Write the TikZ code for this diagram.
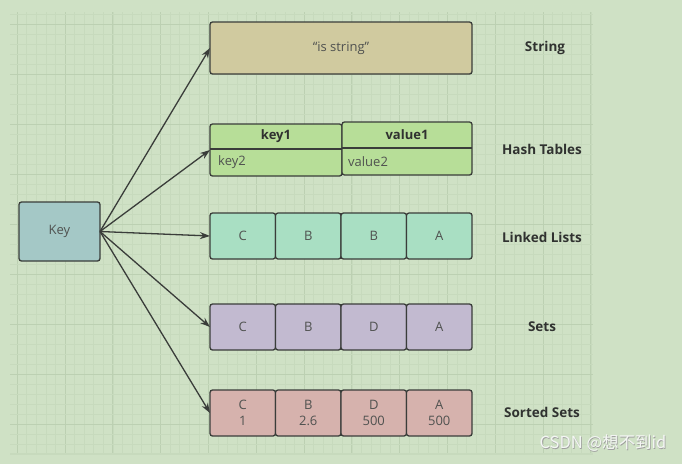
\documentclass[tikz,border=0pt]{standalone}
\usepackage{fontspec}
\setmainfont{Open Sans}
\newfontfamily\cjk{Noto Sans CJK SC}
\usetikzlibrary{arrows.meta,calc}
\definecolor{bg}{HTML}{CFE1C5}
\definecolor{gridminor}{HTML}{C7DABD}
\definecolor{gridmajor}{HTML}{BCD0B2}
\definecolor{linec}{HTML}{3A3D3A}
\definecolor{txt}{HTML}{505250}
\definecolor{lbl}{HTML}{303230}
\definecolor{keyc}{HTML}{A4C8C6}
\definecolor{strc}{HTML}{D0CA9F}
\definecolor{hashc}{HTML}{B7DE98}
\definecolor{listc}{HTML}{A9DFC3}
\definecolor{setc}{HTML}{C2BAD0}
\definecolor{zsetc}{HTML}{D6B2AD}
\definecolor{wm}{HTML}{F4F6F4}
\tikzset{
  cell/.style={draw=linec, line width=1.3pt, rounded corners=2.5pt, text=txt,
    font=\fontsize{13}{15}\selectfont, anchor=north west, inner sep=0pt, outer sep=0pt,
    minimum height=46pt, minimum width=65.5pt, align=center},
  lab/.style={text=lbl, font=\bfseries\fontsize{13.5}{15}\selectfont},
  txtn/.style={text=txt, font=\fontsize{13}{15}\selectfont, inner sep=0pt},
  conn/.style={draw=linec, line width=1.3pt, -{Stealth[length=10pt,width=7pt]}},
}
\begin{document}
\begin{tikzpicture}[x=1pt,y=-1pt]
\useasboundingbox (0,0) rectangle (682,464);
\fill[bg] (0,0) rectangle (682,464);
% grid
\foreach \k in {0,...,60} {
  \pgfmathsetmacro{\xx}{17.2+9.56*\k}
  \draw[gridminor, line width=0.6pt] (\xx,12) -- (\xx,453);
}
\foreach \k in {0,...,12} {
  \pgfmathsetmacro{\xx}{17.2+47.8*\k}
  \draw[gridmajor, line width=0.9pt] (\xx,12) -- (\xx,453);
}
\foreach \k in {0,...,43} {
  \pgfmathsetmacro{\yy}{14+10*\k}
  \draw[gridminor, line width=0.6pt] (10,\yy) -- (593,\yy);
}
\foreach \k in {0,...,8} {
  \pgfmathsetmacro{\yy}{24+50*\k}
  \draw[gridmajor, line width=0.9pt] (10,\yy) -- (593,\yy);
}
\fill[gridminor] (10,453) rectangle (593,455);

% key
\node[cell, fill=keyc, minimum width=81pt, minimum height=59pt] (key) at (19,202) {Key};

% string
\node[cell, fill=strc, minimum width=262pt, minimum height=52pt] (str) at (210,22) {\textquotedblleft is string\textquotedblright};

% hash
\node[cell, fill=hashc, minimum width=132pt, minimum height=52pt] (hk) at (210,124) {};
\node[cell, fill=hashc, minimum width=130pt, minimum height=53pt] (hv) at (342,122) {};
\coordinate (hkd) at ($(hk.north west)!0.48!(hk.south west)$);
\coordinate (hvd) at ($(hv.north west)!0.49!(hv.south west)$);
\draw[linec, line width=1.3pt] (hkd) -- (hkd -| hk.east);
\draw[linec, line width=1.3pt] (hvd) -- (hvd -| hv.east);
\node[txtn, font=\bfseries\fontsize{13}{15}\selectfont, text=lbl] (k1) at ($(hk.north)!0.5!(hkd -| hk.north)$) {key1};
\node[txtn, anchor=west] (k2) at ($(hkd)!0.5!(hk.south west)+(8,0)$) {key2};
\node[txtn, font=\bfseries\fontsize{13}{15}\selectfont, text=lbl] (v1) at ($(hv.north)!0.5!(hvd -| hv.north)$) {value1};
\node[txtn, anchor=west] (v2) at ($(hvd)!0.5!(hv.south west)+(6,0)$) {value2};

% linked lists
\node[cell, fill=listc] (l1) at (210,213) {C};
\node[cell, fill=listc] (l2) at (275.5,213) {B};
\node[cell, fill=listc] (l3) at (341,213) {B};
\node[cell, fill=listc] (l4) at (406.5,213) {A};

% sets
\node[cell, fill=setc] (s1) at (210,304) {C};
\node[cell, fill=setc] (s2) at (275.5,304) {B};
\node[cell, fill=setc] (s3) at (341,304) {D};
\node[cell, fill=setc] (s4) at (406.5,304) {A};

% sorted sets
\node[cell, fill=zsetc, font=\fontsize{13}{16}\selectfont] (z1) at (210,390) {C\\1};
\node[cell, fill=zsetc, font=\fontsize{13}{16}\selectfont] (z2) at (275.5,390) {B\\2.6};
\node[cell, fill=zsetc, font=\fontsize{13}{16}\selectfont] (z3) at (341,390) {D\\500};
\node[cell, fill=zsetc, font=\fontsize{13}{16}\selectfont] (z4) at (406.5,390) {A\\500};

% labels
\node[lab] (t1) at (545,48) {String};
\node[lab] (t2) at (542,149) {Hash Tables};
\node[lab] (t3) at (542,237) {Linked Lists};
\node[lab] (t4) at (542,327) {Sets};
\node[lab] (t5) at (542,412) {Sorted Sets};

% connectors
\draw[conn] (key.east) -- (str.west);
\draw[conn] (key.east) -- (hk.west);
\draw[conn] (key.east) -- (l1.west);
\draw[conn] (key.east) -- (s1.west);
\draw[conn] (key.east) -- (z1.west);

% watermark
\node[text=gray!75, font=\cjk\fontsize{16.5}{18}\selectfont] (wm2) at (603.7,443.7) {CSDN @想不到id};
\node[text=wm, font=\cjk\fontsize{16.5}{18}\selectfont] (wm) at (603,443) {CSDN @想不到id};
\end{tikzpicture}
\end{document}
